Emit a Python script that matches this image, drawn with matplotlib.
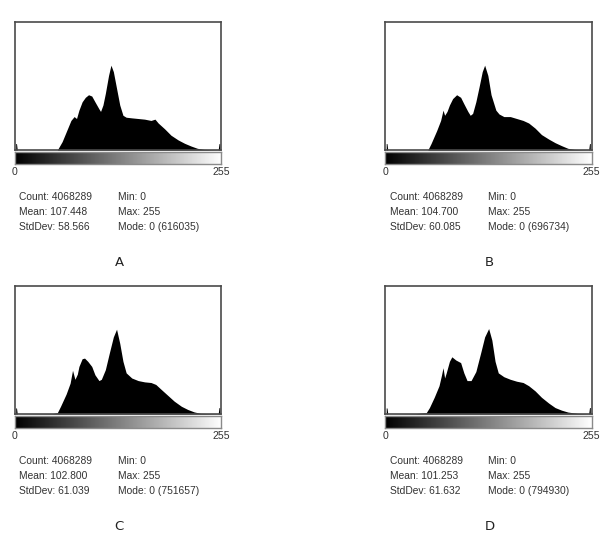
import numpy as np
import matplotlib.pyplot as plt

W, H = 610, 536

# histogram outlines (gray level -> height as fraction of frame)
levels_a = [0, 1, 2, 52, 58, 65, 69, 73, 76, 79, 83, 87, 91, 95, 99, 104, 106, 109, 112, 116, 119,
            122, 126, 130, 134, 138, 145, 153, 161, 169, 174, 178, 186, 194, 203, 211, 219, 227,
            235, 243, 253, 254, 255]
heights_a = [0.05, 0.05, 0, 0, 0.065, 0.17, 0.23, 0.26, 0.245, 0.31, 0.375, 0.41, 0.43, 0.42, 0.375,
             0.32, 0.30, 0.35, 0.44, 0.58, 0.66, 0.61, 0.48, 0.35, 0.27, 0.255, 0.25, 0.245, 0.24,
             0.23, 0.24, 0.21, 0.165, 0.115, 0.078, 0.052, 0.031, 0.013, 0.005, 0.003, 0.002, 0.05, 0.05]

levels_b = [0, 1, 2, 52, 56, 63, 68, 71, 73, 76, 79, 83, 88, 93, 97, 102, 105, 108, 112, 116, 120,
            123, 127, 131, 137, 141, 147, 155, 163, 171, 178, 186, 194, 203, 211, 219, 227, 235,
            243, 253, 254, 255]
heights_b = [0.05, 0.05, 0, 0, 0.05, 0.15, 0.23, 0.31, 0.27, 0.30, 0.35, 0.40, 0.43, 0.41, 0.36, 0.30,
             0.27, 0.285, 0.375, 0.49, 0.61, 0.66, 0.58, 0.43, 0.31, 0.28, 0.26, 0.26, 0.245, 0.23,
             0.21, 0.17, 0.12, 0.085, 0.057, 0.034, 0.013, 0.005, 0.003, 0.002, 0.05, 0.05]

levels_c = [0, 1, 2, 46, 52, 56, 63, 68, 71, 74, 77, 79, 83, 86, 90, 95, 99, 104, 107, 112, 117,
            122, 126, 130, 134, 138, 145, 153, 161, 169, 175, 182, 190, 198, 207, 215, 223, 231,
            243, 253, 254, 255]
heights_c = [0.047, 0.047, 0, 0.003, 0.01, 0.06, 0.155, 0.24, 0.34, 0.27, 0.31, 0.37, 0.43, 0.435, 0.41,
             0.37, 0.305, 0.26, 0.27, 0.345, 0.475, 0.60, 0.66, 0.55, 0.41, 0.32, 0.28, 0.26, 0.25,
             0.245, 0.23, 0.19, 0.145, 0.10, 0.06, 0.035, 0.016, 0.005, 0.003, 0.002, 0.05, 0.05]

levels_d = [0, 1, 2, 37, 50, 54, 60, 66, 69, 71, 73, 75, 79, 82, 87, 93, 97, 101, 106, 112, 118,
            123, 128, 132, 136, 140, 147, 155, 163, 171, 178, 186, 194, 203, 211, 219, 227, 239,
            253, 254, 255]
heights_d = [0.047, 0.047, 0, 0.003, 0.01, 0.05, 0.13, 0.22, 0.30, 0.36, 0.28, 0.32, 0.41, 0.445, 0.42,
             0.40, 0.32, 0.26, 0.26, 0.33, 0.475, 0.60, 0.665, 0.575, 0.41, 0.32, 0.29, 0.27,
             0.255, 0.245, 0.22, 0.18, 0.13, 0.085, 0.05, 0.03, 0.015, 0.005, 0.002, 0.05, 0.05]

panel_names = ["A", "B", "C", "D"]
counts = ["4068289", "4068289", "4068289", "4068289"]
means = ["107.448", "104.700", "102.800", "101.253"]
stddevs = ["58.566", "60.085", "61.039", "61.632"]
mins = ["0", "0", "0", "0"]
maxs = ["255", "255", "255", "255"]
modes = ["0 (616035)", "0 (696734)", "0 (751657)", "0 (794930)"]

all_levels = [levels_a, levels_b, levels_c, levels_d]
all_heights = [heights_a, heights_b, heights_c, heights_d]


def fig_rect(x0, y0, x1, y1):
    """pixel box (top-left origin) -> figure fraction rect"""
    return [x0 / W, 1 - y1 / H, (x1 - x0) / W, (y1 - y0) / H]


fig = plt.figure(figsize=(W / 100, H / 100), dpi=100)
fig.patch.set_facecolor("white")

txt_font = ["Liberation Sans", "DejaVu Sans"]
offsets = [(0, 0), (370.5, 0), (0, 264), (370.5, 264)]

for i, (dx, dy) in enumerate(offsets):
    left, right = 14.5 + dx, 221 + dx
    top, base = 21.5 + dy, 150 + dy

    # histogram frame
    ax = fig.add_axes(fig_rect(left, top, right, base))
    ax.fill_between(all_levels[i], all_heights[i], 0, color="black", lw=0)
    ax.set_xlim(-1.5, 256.5)
    ax.set_ylim(0, 1)
    ax.set_xticks([])
    ax.set_yticks([])
    for sp in ax.spines.values():
        sp.set_color("#4a4a4a")
        sp.set_linewidth(1.2)

    # gray ramp under the frame
    bar = fig.add_axes(fig_rect(left, base + 2, right, base + 14))
    bar.imshow(np.linspace(0, 1, 256)[None, :], cmap="gray", aspect="auto",
               extent=(-0.5, 255.5, 0, 1))
    bar.set_xticks([])
    bar.set_yticks([])
    for sp in bar.spines.values():
        sp.set_color("#8a8a8a")
        sp.set_linewidth(1.0)

    fig.text((left + 0.5) / W, 1 - (base + 22) / H, "0", ha="center", va="center",
             fontsize=7.6, color="#333333", family=txt_font)
    fig.text(right / W, 1 - (base + 22) / H, "255", ha="center", va="center",
             fontsize=7.6, color="#333333", family=txt_font)

    col1 = ["Count: " + counts[i], "Mean: " + means[i], "StdDev: " + stddevs[i]]
    col2 = ["Min: " + mins[i], "Max: " + maxs[i], "Mode: " + modes[i]]
    for r in range(3):
        yy = 1 - (197 + dy + 15 * r) / H
        fig.text((19 + dx) / W, yy, col1[r], ha="left", va="center",
                 fontsize=7.4, color="#333333", family=txt_font)
        fig.text((118 + dx) / W, yy, col2[r], ha="left", va="center",
                 fontsize=7.4, color="#333333", family=txt_font)

    fig.text((119 + dx) / W, 1 - (262 + dy) / H, panel_names[i], ha="center", va="center",
             fontsize=9.5, color="#222222")

fig.savefig("out.png", dpi=100, facecolor="white")
